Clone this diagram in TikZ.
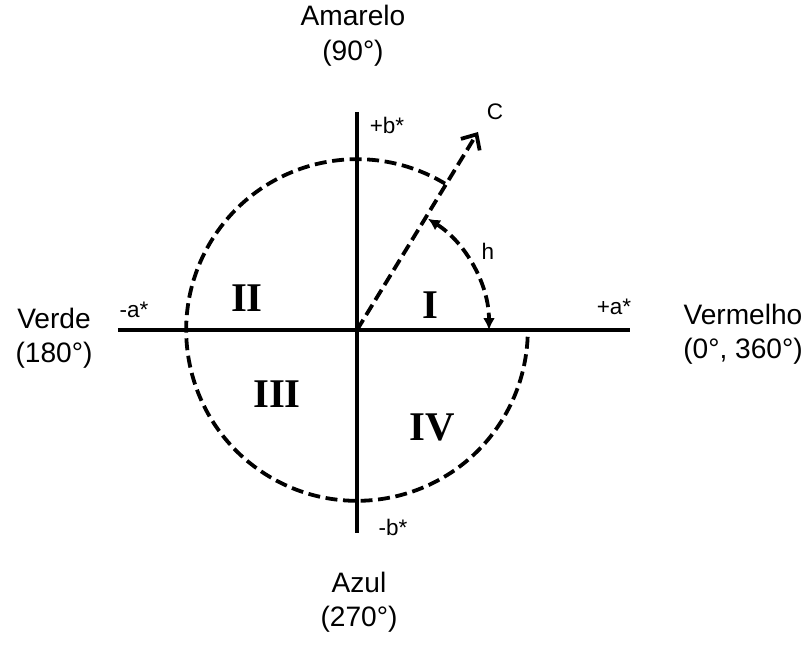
\documentclass[tikz,border=0pt]{standalone}
\usepackage{fontspec}
\setmainfont{Liberation Sans}
\newfontfamily\romanfont{Liberation Serif}
\usepackage{tikz}
\usetikzlibrary{arrows.meta}

\begin{document}
\begin{tikzpicture}[line join=round,
  axis/.style={line width=2.4pt},
  dashline/.style={line width=2.7pt,dash pattern=on 8.5pt off 4pt},
  huelbl/.style={align=center,inner sep=0pt,font=\fontsize{20}{24.5}\selectfont},
  axislbl/.style={inner sep=0pt,font=\fontsize{16}{19}\selectfont},
  quadlbl/.style={inner sep=0pt,font=\romanfont\bfseries\fontsize{29}{32}\selectfont}]
  \useasboundingbox (-8.925,-7.85) rectangle (11.275,8.25);
  \coordinate (O) at (0,0);
  \coordinate (AL) at (-5.975,0);
  \coordinate (AR) at (6.825,0);
  \coordinate (BT) at (0,5.45);
  \coordinate (BB) at (0,-5.075);
  \coordinate (CT) at (3.025,4.95);
  % a* and b* axes
  \draw[axis] (AL) -- (AR);
  \draw[axis] (BT) -- (BB);
  % chroma circle, open in quadrant I
  \draw[dashline] (O) ++(59:4.27) arc[start angle=59,end angle=360,radius=4.27];
  \draw[dashline,-{Straight Barb[length=3mm,width=5.5mm]}] (O) -- (CT);
  % hue angle
  \draw[dashline,{Latex[length=3mm,width=3mm]}-{Latex[length=3mm,width=3mm]}]
    (O) ++(57.5:3.3) arc[start angle=57.5,end angle=0,radius=3.3];
  \node[axislbl] (lbC) at (3.45,5.45) {C};
  \node[axislbl] (lbh) at (3.275,1.975) {h};
  \node[axislbl] (pb) at (0.75,5.125) {+b*};
  \node[axislbl] (mb) at (0.9,-4.925) {-b*};
  \node[axislbl] (ma) at (-5.575,0.5) {-a*};
  \node[axislbl] (pa) at (6.425,0.575) {+a*};
  \node[quadlbl] (q1) at (1.825,0.625) {I};
  \node[quadlbl] (q2) at (-2.75,0.8) {II};
  \node[quadlbl] (q3) at (-2.0,-1.6) {III};
  \node[quadlbl] (q4) at (1.875,-2.425) {IV};
  \node[huelbl] (yel) at (-0.1,7.36) {Amarelo\\(90°)};
  \node[huelbl] (grn) at (-7.575,-0.21) {Verde\\(180°)};
  \node[huelbl] (red) at (9.65,-0.1) {Vermelho\\(0°, 360°)};
  \node[huelbl] (blu) at (0.05,-6.81) {Azul\\(270°)};
\end{tikzpicture}
\end{document}
